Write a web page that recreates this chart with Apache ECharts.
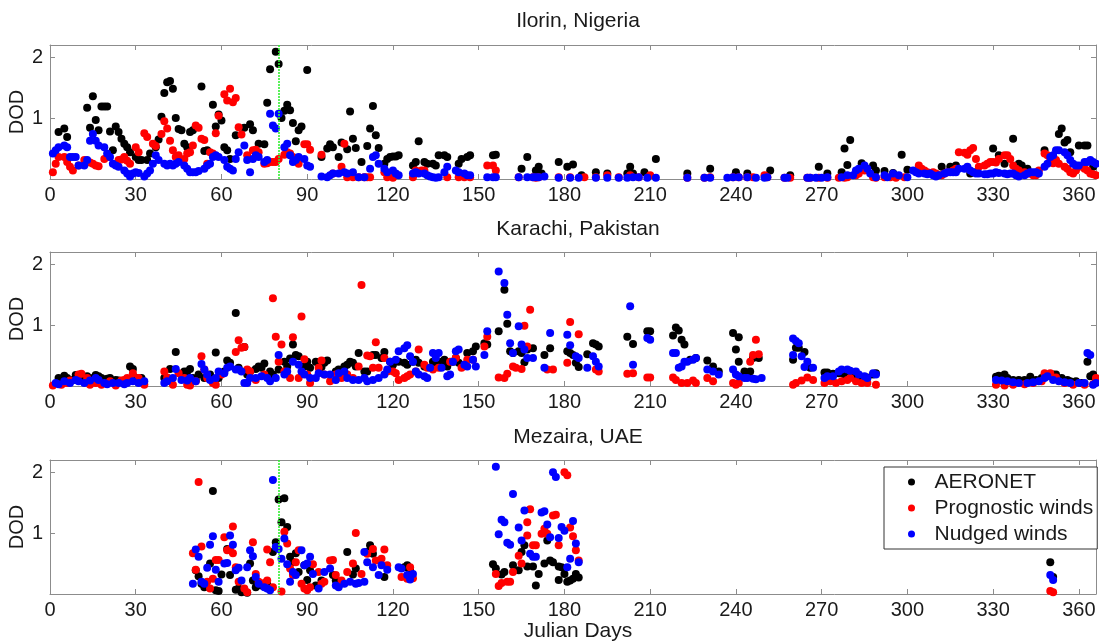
<!DOCTYPE html>
<html>
<head>
<meta charset="utf-8">
<script src="https://cdn.jsdelivr.net/npm/echarts@6/dist/echarts.min.js"></script>
<style>
  html, body { margin: 0; padding: 0; background: #fff; }
  #chart { width: 1099px; height: 644px; }
</style>
</head>
<body>
<div id="chart"></div>
<script>
// Daily dust optical depth (DOD) per site: [Julian day, DOD]

// ---- Ilorin, Nigeria ----
const ilorinAeronet = [[3,.77],[5,.83],[6,.69],[13,1.17],[14,.84],[15,1.36],[16,.97],[17,.80],[18,1.19],[19,1.19],[20,1.19],[21,.78],[22,.47],[23,.86],[24,.77],[25,.66],[26,.58],[27,.52],[28,.44],[30,.36],[31,.31],[32,.31],[34,.31],[35,.42],[37,.52],[38,.65],[39,1.02],[40,1.41],[41,1.59],[42,1.61],[43,1.48],[44,1.0],[45,.82],[46,.80],[47,.58],[48,.52],[49,.77],[50,.80],[51,.85],[53,1.52],[54,.46],[55,.47],[57,1.22],[58,.86],[59,1.06],[60,.96],[61,.52],[62,.47],[63,.33],[65,.72],[68,.84],[70,.90],[71,.80],[73,.58],[75,.57],[76,1.25],[77,1.80],[79,2.09],[80,1.89],[81,1.0],[82,1.12],[83,1.22],[84,1.13],[85,.92],[86,.62],[87,.80],[88,.86],[90,1.79],[95,.36],[97,.50],[98,.57],[99,.52],[101,.36],[102,.60],[104,.49],[105,1.11],[106,.66],[107,.51],[109,.28],[111,.54],[112,.83],[113,1.20],[114,.72],[115,.51],[117,.25],[118,.33],[119,.36],[120,.37],[121,.37],[122,.39],[127,.22],[128,.28],[129,.62],[131,.28],[132,.25],[134,.25],[135,.22],[136,.39],[138,.39],[139,.36],[143,.25],[144,.33],[146,.36],[147,.39],[155,.39],[156,.40],[165,.17],[167,.36],[170,.14],[171,.20],[172,.09],[178,.28],[181,.20],[183,.24],[186,.06],[191,.11],[195,.09],[202,.09],[203,.20],[204,.09],[208,.11],[212,.33],[223,.09],[231,.17],[240,.11],[244,.09],[252,.14],[259,.06],[269,.20],[272,.09],[277,.11],[278,.50],[279,.23],[280,.64],[284,.26],[288,.22],[289,.14],[292,.13],[295,.10],[298,.40],[300,.15],[312,.20],[315,.20],[317,.22],[322,.09],[324,.11],[330,.50],[332,.39],[334,.25],[337,.66],[339,.25],[340,.22],[342,.17],[348,.47],[353,.74],[354,.83],[355,.60],[356,.64],[357,.44],[360,.55],[362,.55],[363,.55],[365,.20]];
const ilorinPrognostic = [[1,.11],[2,.25],[3,.36],[5,.36],[6,.28],[7,.20],[8,.14],[10,.22],[12,.31],[14,.27],[15,.25],[16,.22],[17,.21],[19,.33],[20,.36],[24,.31],[25,.32],[26,.36],[27,.30],[28,.25],[30,.52],[31,.44],[33,.75],[34,.69],[36,.58],[37,.54],[39,.74],[40,.95],[41,.83],[42,.63],[43,.47],[44,.36],[45,.39],[47,.33],[48,.42],[49,.44],[50,.55],[51,.88],[52,.84],[53,.66],[54,.64],[55,.25],[56,.44],[57,.42],[58,.75],[59,1.04],[61,1.39],[62,1.29],[63,1.48],[64,1.26],[65,1.33],[66,.85],[67,.73],[69,.39],[71,.47],[72,.48],[73,.44],[75,.25],[76,.26],[77,.28],[78,.28],[79,.28],[80,.33],[82,.40],[83,.44],[84,.42],[85,.36],[86,.31],[87,.25],[89,.57],[90,.57],[91,.48],[95,.40],[99,.09],[102,.20],[103,.58],[104,.03],[106,.03],[108,.03],[110,.03],[111,.03],[112,.03],[117,.11],[118,.03],[120,.02],[127,.03],[128,.14],[130,.14],[131,.14],[139,.03],[143,.03],[145,.03],[147,.03],[153,.22],[155,.22],[156,.14],[164,.03],[169,.03],[170,.02],[171,.03],[178,.03],[182,.03],[187,.03],[191,.03],[195,.06],[199,.03],[203,.06],[206,.03],[210,.06],[223,.02],[229,.02],[231,.03],[239,.03],[241,.03],[244,.03],[246,.03],[250,.06],[251,.03],[257,.02],[259,.02],[265,.02],[266,.02],[269,.02],[272,.02],[276,.02],[278,.02],[279,.03],[282,.06],[283,.09],[285,.14],[288,.03],[289,.02],[292,.03],[294,.03],[296,.02],[299,.03],[304,.22],[305,.17],[306,.14],[307,.11],[309,.11],[310,.09],[311,.06],[312,.06],[313,.09],[314,.11],[316,.14],[317,.17],[318,.44],[320,.43],[321,.40],[322,.47],[323,.51],[324,.33],[325,.20],[327,.22],[328,.25],[329,.28],[330,.28],[331,.27],[332,.33],[334,.39],[335,.39],[336,.33],[337,.22],[338,.17],[339,.14],[341,.11],[342,.09],[343,.09],[344,.06],[345,.06],[346,.14],[348,.42],[349,.39],[350,.33],[351,.26],[352,.31],[353,.25],[355,.20],[356,.17],[357,.11],[358,.09],[359,.14],[360,.20],[362,.17],[363,.14],[364,.09],[365,.08],[366,.06]];
const ilorinNudged = [[1,.42],[2,.47],[3,.52],[5,.55],[6,.52],[7,.36],[8,.36],[9,.36],[10,.22],[12,.22],[13,.31],[14,.63],[15,.74],[16,.63],[17,.55],[19,.52],[20,.42],[21,.36],[22,.25],[23,.22],[24,.20],[26,.14],[27,.09],[28,.04],[29,.09],[30,.11],[31,.10],[33,.04],[34,.09],[35,.14],[36,.25],[37,.39],[38,.31],[40,.25],[41,.22],[42,.25],[43,.22],[44,.25],[45,.28],[47,.22],[48,.17],[49,.11],[50,.11],[51,.11],[52,.13],[54,.17],[55,.22],[56,.25],[57,.36],[58,.39],[59,.36],[61,.31],[62,.20],[63,.17],[64,.14],[65,.33],[66,.44],[68,.55],[69,.31],[70,.11],[71,.33],[72,.39],[73,.36],[75,.28],[76,.31],[77,1.07],[78,.88],[79,.83],[80,1.07],[82,.52],[83,.58],[84,.39],[85,.28],[86,.31],[87,.36],[89,.33],[90,.22],[91,.20],[95,.04],[97,.03],[98,.06],[99,.09],[101,.09],[103,.11],[104,.09],[106,.11],[108,.03],[110,.03],[112,.17],[113,.36],[114,.39],[115,.25],[117,.17],[118,.11],[120,.14],[121,.09],[122,.06],[127,.09],[128,.11],[129,.09],[131,.09],[132,.06],[133,.04],[134,.03],[135,.02],[136,.03],[138,.11],[139,.20],[142,.14],[143,.11],[145,.09],[146,.06],[147,.06],[153,.03],[155,.03],[156,.03],[164,.03],[167,.03],[169,.03],[170,.03],[171,.03],[173,.04],[178,.02],[182,.02],[185,.02],[191,.02],[195,.02],[199,.02],[202,.02],[204,.03],[206,.03],[209,.02],[212,.02],[223,.02],[229,.02],[231,.02],[237,.02],[239,.03],[241,.03],[244,.03],[247,.02],[250,.02],[251,.03],[257,.02],[258,.02],[265,.02],[266,.02],[268,.02],[270,.02],[272,.03],[277,.03],[279,.06],[281,.06],[282,.14],[283,.17],[285,.22],[286,.17],[287,.09],[289,.03],[292,.06],[293,.03],[295,.09],[297,.06],[300,.03],[302,.14],[303,.11],[304,.09],[306,.09],[307,.08],[308,.09],[309,.06],[310,.04],[311,.06],[313,.09],[314,.11],[315,.11],[316,.11],[317,.11],[318,.17],[320,.17],[321,.20],[322,.14],[323,.11],[324,.09],[325,.09],[327,.08],[328,.08],[329,.09],[330,.09],[331,.11],[332,.10],[334,.09],[335,.08],[336,.09],[337,.09],[338,.06],[339,.04],[341,.06],[342,.09],[343,.11],[344,.11],[345,.11],[346,.09],[348,.20],[349,.25],[350,.36],[351,.39],[352,.47],[353,.47],[355,.44],[356,.39],[357,.31],[358,.25],[359,.22],[360,.22],[362,.28],[363,.28],[364,.31],[365,.28],[366,.25]];

// ---- Karachi, Pakistan ----
const karachiAeronet = [[3,.13],[5,.17],[6,.13],[8,.10],[9,.18],[10,.13],[12,.10],[13,.16],[15,.13],[16,.18],[17,.16],[18,.13],[20,.12],[21,.13],[23,.10],[24,.09],[26,.08],[28,.32],[29,.28],[30,.13],[32,.13],[40,.13],[41,.13],[42,.28],[44,.56],[46,.19],[47,.24],[48,.24],[49,.28],[50,.13],[51,.10],[52,.19],[54,.13],[56,.19],[58,.55],[59,.13],[61,.24],[62,.42],[63,.38],[65,1.20],[66,.30],[68,.64],[69,.19],[70,.24],[72,.28],[73,.32],[74,.30],[75,.37],[77,.24],[78,.19],[80,.27],[82,.40],[83,.32],[84,.45],[85,.68],[86,.51],[87,.49],[89,.32],[90,.40],[91,.30],[93,.40],[94,.35],[95,.31],[96,.38],[97,.42],[100,.24],[101,.27],[103,.32],[104,.35],[105,.40],[106,.38],[107,.32],[108,.54],[110,.24],[111,.24],[113,.51],[114,.51],[116,.46],[117,.56],[119,.40],[120,.35],[122,.40],[124,.38],[125,.35],[127,.40],[128,.43],[129,.38],[131,.32],[134,.40],[135,.35],[137,.40],[138,.43],[139,.32],[141,.40],[142,.46],[143,.38],[145,.35],[146,.54],[148,.57],[149,.65],[152,.70],[153,.68],[157,.90],[159,1.58],[160,1.02],[161,.57],[162,.54],[164,.57],[165,.54],[166,.39],[167,.60],[169,.62],[173,.51],[175,.62],[181,.57],[182,.54],[183,.51],[184,.38],[185,.31],[188,.52],[190,.70],[191,.68],[192,.65],[202,.81],[204,.69],[209,.90],[210,.90],[218,.83],[219,.96],[220,.91],[221,.76],[222,.68],[224,.43],[226,.46],[230,.42],[232,.32],[234,.24],[239,.87],[240,.60],[241,.80],[241,.40],[243,.24],[244,.19],[245,.24],[246,.46],[248,.46],[260,.43],[261,.63],[262,.63],[264,.56],[266,.30],[271,.22],[272,.22],[274,.20],[276,.21],[278,.19],[280,.17],[282,.16],[284,.13],[286,.14],[288,.19],[289,.21],[331,.15],[332,.17],[334,.19],[335,.13],[337,.10],[339,.10],[341,.10],[343,.15],[345,.10],[347,.13],[349,.16],[351,.19],[352,.19],[354,.13],[356,.10],[357,.08],[359,.08],[361,.05],[363,.40],[364,.16],[365,.19],[366,.08]];
const karachiPrognostic = [[1,.01],[4,.02],[6,.05],[7,.09],[10,.19],[11,.20],[13,.13],[14,.02],[16,.05],[18,.02],[21,.08],[23,.01],[25,.09],[26,.10],[27,.13],[28,.11],[29,.21],[31,.13],[33,.02],[40,.24],[41,.14],[43,.02],[45,.21],[47,.13],[48,.02],[49,.01],[51,.08],[53,.49],[54,.27],[55,.13],[57,.05],[58,.02],[60,.19],[65,.56],[66,.75],[67,.63],[68,.64],[69,.27],[70,.24],[72,.10],[75,.19],[78,1.44],[79,.81],[80,.40],[81,.68],[82,.24],[84,.13],[85,.80],[87,.13],[88,1.14],[89,.44],[90,.19],[91,.05],[94,.30],[95,.42],[96,.19],[98,.08],[100,.19],[102,.13],[104,.19],[106,.13],[108,.32],[109,1.66],[111,.50],[112,.49],[113,.30],[114,.72],[115,.30],[117,.46],[118,.24],[120,.24],[121,.21],[122,.10],[124,.13],[125,.16],[126,.19],[128,.24],[129,.60],[131,.35],[132,.30],[134,.27],[136,.30],[140,.40],[142,.46],[144,.30],[146,.43],[148,.43],[152,.65],[153,.81],[157,.14],[159,.13],[160,.20],[162,.32],[163,.30],[165,.28],[166,.99],[167,.65],[168,1.25],[174,.27],[176,.27],[181,.38],[182,1.05],[185,.85],[191,.27],[192,.24],[202,.20],[204,.21],[209,.14],[210,.14],[218,.14],[219,.10],[221,.05],[223,.05],[225,.09],[226,.05],[230,.13],[232,.08],[239,.05],[240,.02],[241,.05],[245,.40],[246,.51],[247,.76],[248,.52],[260,.02],[261,.05],[263,.09],[265,.14],[267,.10],[271,.05],[273,.08],[275,.05],[277,.08],[279,.10],[280,.13],[282,.08],[284,.05],[286,.05],[289,.02],[331,.02],[334,.01],[337,.02],[341,.03],[344,.05],[347,.08],[348,.21],[350,.21],[352,.14],[355,.05],[358,.02],[362,.02],[365,.03],[366,.13]];
const karachiNudged = [[2,.05],[3,.03],[5,.08],[7,.05],[9,.10],[10,.08],[12,.05],[14,.09],[16,.13],[17,.10],[19,.05],[20,.03],[22,.05],[24,.05],[26,.03],[27,.05],[29,.08],[31,.05],[33,.08],[40,.05],[41,.08],[43,.13],[44,.28],[46,.10],[48,.09],[49,.13],[51,.08],[53,.36],[54,.27],[55,.19],[56,.10],[58,.13],[59,.24],[61,.21],[62,.30],[63,.32],[65,.27],[66,.27],[67,.24],[68,.05],[69,.05],[70,.13],[72,.13],[74,.16],[76,.13],[77,.08],[79,.13],[80,.51],[82,.19],[83,.24],[85,.40],[87,.35],[88,.24],[89,.19],[91,.13],[93,.13],[94,.21],[96,.19],[98,.19],[100,.10],[101,.21],[103,.24],[104,.13],[106,.10],[108,.10],[110,.13],[111,.08],[113,.10],[115,.13],[117,.19],[118,.27],[119,.40],[121,.43],[122,.57],[124,.62],[125,.67],[126,.49],[127,.40],[128,.24],[129,.19],[131,.16],[132,.13],[133,.30],[134,.54],[135,.46],[136,.54],[137,.30],[139,.16],[140,.19],[141,.40],[142,.57],[143,.60],[145,.35],[146,.32],[148,.43],[149,.32],[152,.51],[153,.90],[157,1.88],[159,1.69],[160,1.17],[161,.70],[162,.54],[164,.98],[165,.68],[166,.60],[167,.46],[169,.46],[173,.30],[175,.87],[181,.84],[182,.67],[184,.49],[185,.46],[188,.30],[190,.49],[191,.40],[192,.32],[203,1.31],[204,.35],[209,.79],[210,.76],[218,.54],[219,.54],[220,.30],[221,.32],[222,.40],[223,.40],[225,.43],[226,.46],[230,.27],[232,.24],[234,.19],[239,.27],[240,.19],[241,.16],[243,.13],[244,.13],[246,.12],[247,.11],[249,.13],[260,.51],[260,.78],[261,.74],[262,.70],[263,.49],[264,.31],[265,.40],[267,.30],[271,.13],[272,.16],[274,.16],[276,.24],[277,.27],[279,.27],[280,.25],[282,.24],[283,.19],[285,.16],[286,.13],[288,.21],[289,.19],[331,.10],[333,.09],[335,.08],[337,.06],[339,.05],[342,.05],[344,.06],[346,.08],[348,.13],[349,.16],[351,.10],[353,.08],[355,.06],[357,.05],[360,.05],[362,.05],[363,.54],[364,.51],[365,.02],[366,.05]];

// ---- Mezaira, UAE ----
const mezairaAeronet = [[51,.39],[52,.29],[53,.17],[54,.11],[56,.50],[57,1.69],[58,.06],[59,.05],[60,.32],[62,.74],[63,.31],[65,.07],[66,.09],[67,.03],[69,.02],[70,.50],[71,.22],[72,.11],[74,.14],[76,.17],[78,.69],[79,.85],[80,1.55],[81,1.18],[82,1.57],[83,1.10],[84,.61],[85,.52],[86,.67],[87,.36],[89,.47],[90,.23],[91,.39],[93,.14],[95,.22],[99,.31],[100,.22],[101,.14],[104,.69],[106,.32],[107,.42],[111,.69],[112,.80],[113,.66],[117,.28],[124,.44],[125,.47],[126,.39],[155,.49],[156,.42],[158,.32],[159,.36],[162,.47],[164,.39],[165,.69],[166,.80],[167,.45],[169,.45],[170,.14],[171,.33],[173,.50],[174,.88],[175,.55],[176,.52],[178,.45],[178,.23],[179,.44],[180,.33],[181,.20],[182,.22],[183,.25],[184,.33],[185,.27],[350,.52],[351,.28]];
const mezairaPrognostic = [[50,.67],[51,.40],[52,1.84],[53,.78],[55,.20],[56,.09],[57,.25],[58,.56],[59,.56],[61,.93],[62,.72],[63,.74],[64,.67],[64,1.11],[65,.44],[66,.20],[68,.09],[69,.03],[71,.85],[72,.33],[73,.20],[75,.18],[76,.22],[76,.73],[77,.52],[78,.11],[81,.04],[82,1.02],[83,.83],[84,.42],[85,.31],[86,.52],[87,.72],[88,.17],[89,.09],[90,.06],[91,.11],[92,.49],[94,.36],[95,.17],[96,.20],[98,.55],[99,.56],[100,.31],[102,.22],[104,.36],[106,.50],[107,1.0],[109,.33],[111,.66],[113,.74],[114,.55],[116,.58],[117,.73],[118,.47],[123,.28],[125,.25],[126,.44],[127,.26],[156,.33],[157,.13],[158,.18],[160,.20],[161,.20],[162,.36],[164,.63],[165,.50],[167,1.18],[167,.96],[168,1.39],[169,.80],[170,.80],[172,.99],[173,1.07],[174,.99],[176,1.29],[177,1.30],[178,.80],[180,2.0],[181,1.95],[182,1.09],[183,.95],[184,.72],[185,.55],[350,.05],[351,.03]];
const mezairaNudged = [[50,.17],[51,.73],[52,.61],[53,.20],[54,.17],[55,.43],[56,.81],[57,.95],[58,.40],[59,.20],[61,.50],[62,.51],[63,.96],[64,.81],[65,.39],[66,.43],[67,.22],[69,.44],[70,.72],[71,.62],[72,.28],[73,.17],[75,.11],[76,.09],[77,.06],[78,1.87],[79,.77],[80,.74],[81,.58],[82,.91],[83,.49],[84,.20],[85,.36],[86,.31],[88,.72],[89,.47],[90,.50],[91,.61],[92,.33],[94,.09],[96,.36],[98,.42],[100,.14],[101,.11],[103,.17],[105,.20],[107,.17],[108,.18],[110,.20],[110,.69],[111,.52],[113,.44],[115,.31],[116,.47],[118,.40],[122,.44],[123,.42],[125,.31],[126,.24],[127,.33],[156,2.09],[157,.98],[158,1.22],[159,1.18],[160,.84],[161,.81],[162,1.64],[164,1.09],[165,.88],[166,1.37],[168,.66],[169,.61],[170,.61],[172,1.34],[173,1.36],[174,1.14],[175,.93],[176,2.0],[177,1.92],[178,.92],[179,1.10],[180,1.04],[181,.44],[182,.58],[183,1.20],[184,.83],[185,.52],[350,.31],[351,.23]];

const siteTitles = ['Ilorin, Nigeria', 'Karachi, Pakistan', 'Mezaira, UAE'];
const seriesNames = ['AERONET', 'Prognostic winds', 'Nudged winds'];
const xTicks = [0, 30, 60, 90, 120, 150, 180, 210, 240, 270, 300, 330, 360];
const yTicks = [1, 2];
const markerDay = 80; // vertical reference day drawn on two sites

const sites = [
  { data: [ilorinAeronet, ilorinPrognostic, ilorinNudged], marker: true },
  { data: [karachiAeronet, karachiPrognostic, karachiNudged], marker: false },
  { data: [mezairaAeronet, mezairaPrognostic, mezairaNudged], marker: true }
];

const FONT = '"Liberation Sans", Arial, Helvetica, sans-serif';
const AXIS_GRAY = '#8c8c8c';
const COLORS = ['#000000', '#ff0000', '#0000ff'];
const gridTops = [45, 252, 460];
const titleY = [21.5, 229.5, 437];

const grid = [], xAxis = [], yAxis = [], series = [];

sites.forEach((site, i) => {
  grid.push({ left: 50, width: 1046, top: gridTops[i], height: 134, containLabel: false, outerBoundsMode: 'none' });
  // bottom axis with labels
  xAxis.push({
    type: 'value', gridIndex: i, min: 0, max: 366, interval: 30, position: 'bottom',
    axisLine: { show: true, onZero: false, lineStyle: { color: AXIS_GRAY, width: 1 } },
    axisTick: { show: true, inside: true, length: 5, lineStyle: { color: AXIS_GRAY } },
    axisLabel: {
      show: true, margin: 6, color: '#1a1a1a', fontFamily: FONT, fontSize: 20,
      formatter: v => (xTicks.indexOf(v) >= 0 ? String(v) : '')
    },
    splitLine: { show: false }
  });
  // top frame axis
  xAxis.push({
    type: 'value', gridIndex: i, min: 0, max: 366, interval: 30, position: 'top',
    axisLine: { show: true, onZero: false, lineStyle: { color: AXIS_GRAY, width: 1 } },
    axisTick: { show: true, inside: true, length: 5, lineStyle: { color: AXIS_GRAY } },
    axisLabel: { show: false }, splitLine: { show: false }
  });
  yAxis.push({
    type: 'value', gridIndex: i, min: 0, max: 2.2, interval: 1, position: 'left',
    name: 'DOD', nameLocation: 'middle', nameGap: 23, nameMoveOverlap: false,
    nameTextStyle: { color: '#1a1a1a', fontFamily: FONT, fontSize: 20 },
    axisLine: { show: true, onZero: false, lineStyle: { color: AXIS_GRAY, width: 1 } },
    axisTick: { show: true, inside: true, length: 5, lineStyle: { color: AXIS_GRAY } },
    axisLabel: {
      show: true, margin: 7, color: '#1a1a1a', fontFamily: FONT, fontSize: 20,
      formatter: v => (yTicks.indexOf(v) >= 0 ? String(v) : '')
    },
    splitLine: { show: false }
  });
  yAxis.push({
    type: 'value', gridIndex: i, min: 0, max: 2.2, interval: 1, position: 'right',
    axisLine: { show: true, onZero: false, lineStyle: { color: AXIS_GRAY, width: 1 } },
    axisTick: { show: true, inside: true, length: 5, lineStyle: { color: AXIS_GRAY } },
    axisLabel: { show: false }, splitLine: { show: false }
  });

  site.data.forEach((values, k) => {
    const s = {
      name: seriesNames[k], type: 'scatter',
      xAxisIndex: i * 2, yAxisIndex: i * 2,
      data: values, symbol: 'circle', symbolSize: 8,
      itemStyle: { color: COLORS[k], opacity: 1 },
      emphasis: { disabled: true }, z: 2 + k
    };
    if (site.marker && k === 2) {
      s.markLine = {
        silent: true, symbol: 'none', animation: false,
        label: { show: false },
        lineStyle: { color: '#33ee33', width: 1.6, type: [2, 1], opacity: 1 },
        data: [{ xAxis: markerDay }]
      };
    }
    series.push(s);
  });
});

const graphic = siteTitles.map((t, i) => ({
  type: 'text', x: 578, y: titleY[i], silent: true,
  style: { text: t, fill: '#1a1a1a', font: '21px ' + FONT, textAlign: 'center', textVerticalAlign: 'middle' }
}));
graphic.push({
  type: 'text', x: 578, y: 631, silent: true,
  style: { text: 'Julian Days', fill: '#1a1a1a', font: '21px ' + FONT, textAlign: 'center', textVerticalAlign: 'middle' }
});

const chart = echarts.init(document.getElementById('chart'), null, { renderer: 'canvas' });
chart.setOption({
  backgroundColor: '#ffffff',
  animation: false,
  grid, xAxis, yAxis, series, graphic,
  legend: {
    data: seriesNames.map(n => ({ name: n, icon: 'circle' })),
    orient: 'vertical', left: 884, top: 467,
    padding: [4.5, 4, 4.5, 24],
    itemWidth: 36, itemHeight: 7, itemGap: 5,
    selectedMode: false,
    backgroundColor: '#ffffff', borderColor: '#333333', borderWidth: 1,
    textStyle: { color: '#1a1a1a', fontFamily: FONT, fontSize: 21, lineHeight: 20 }
  }
});
</script>
</body>
</html>
